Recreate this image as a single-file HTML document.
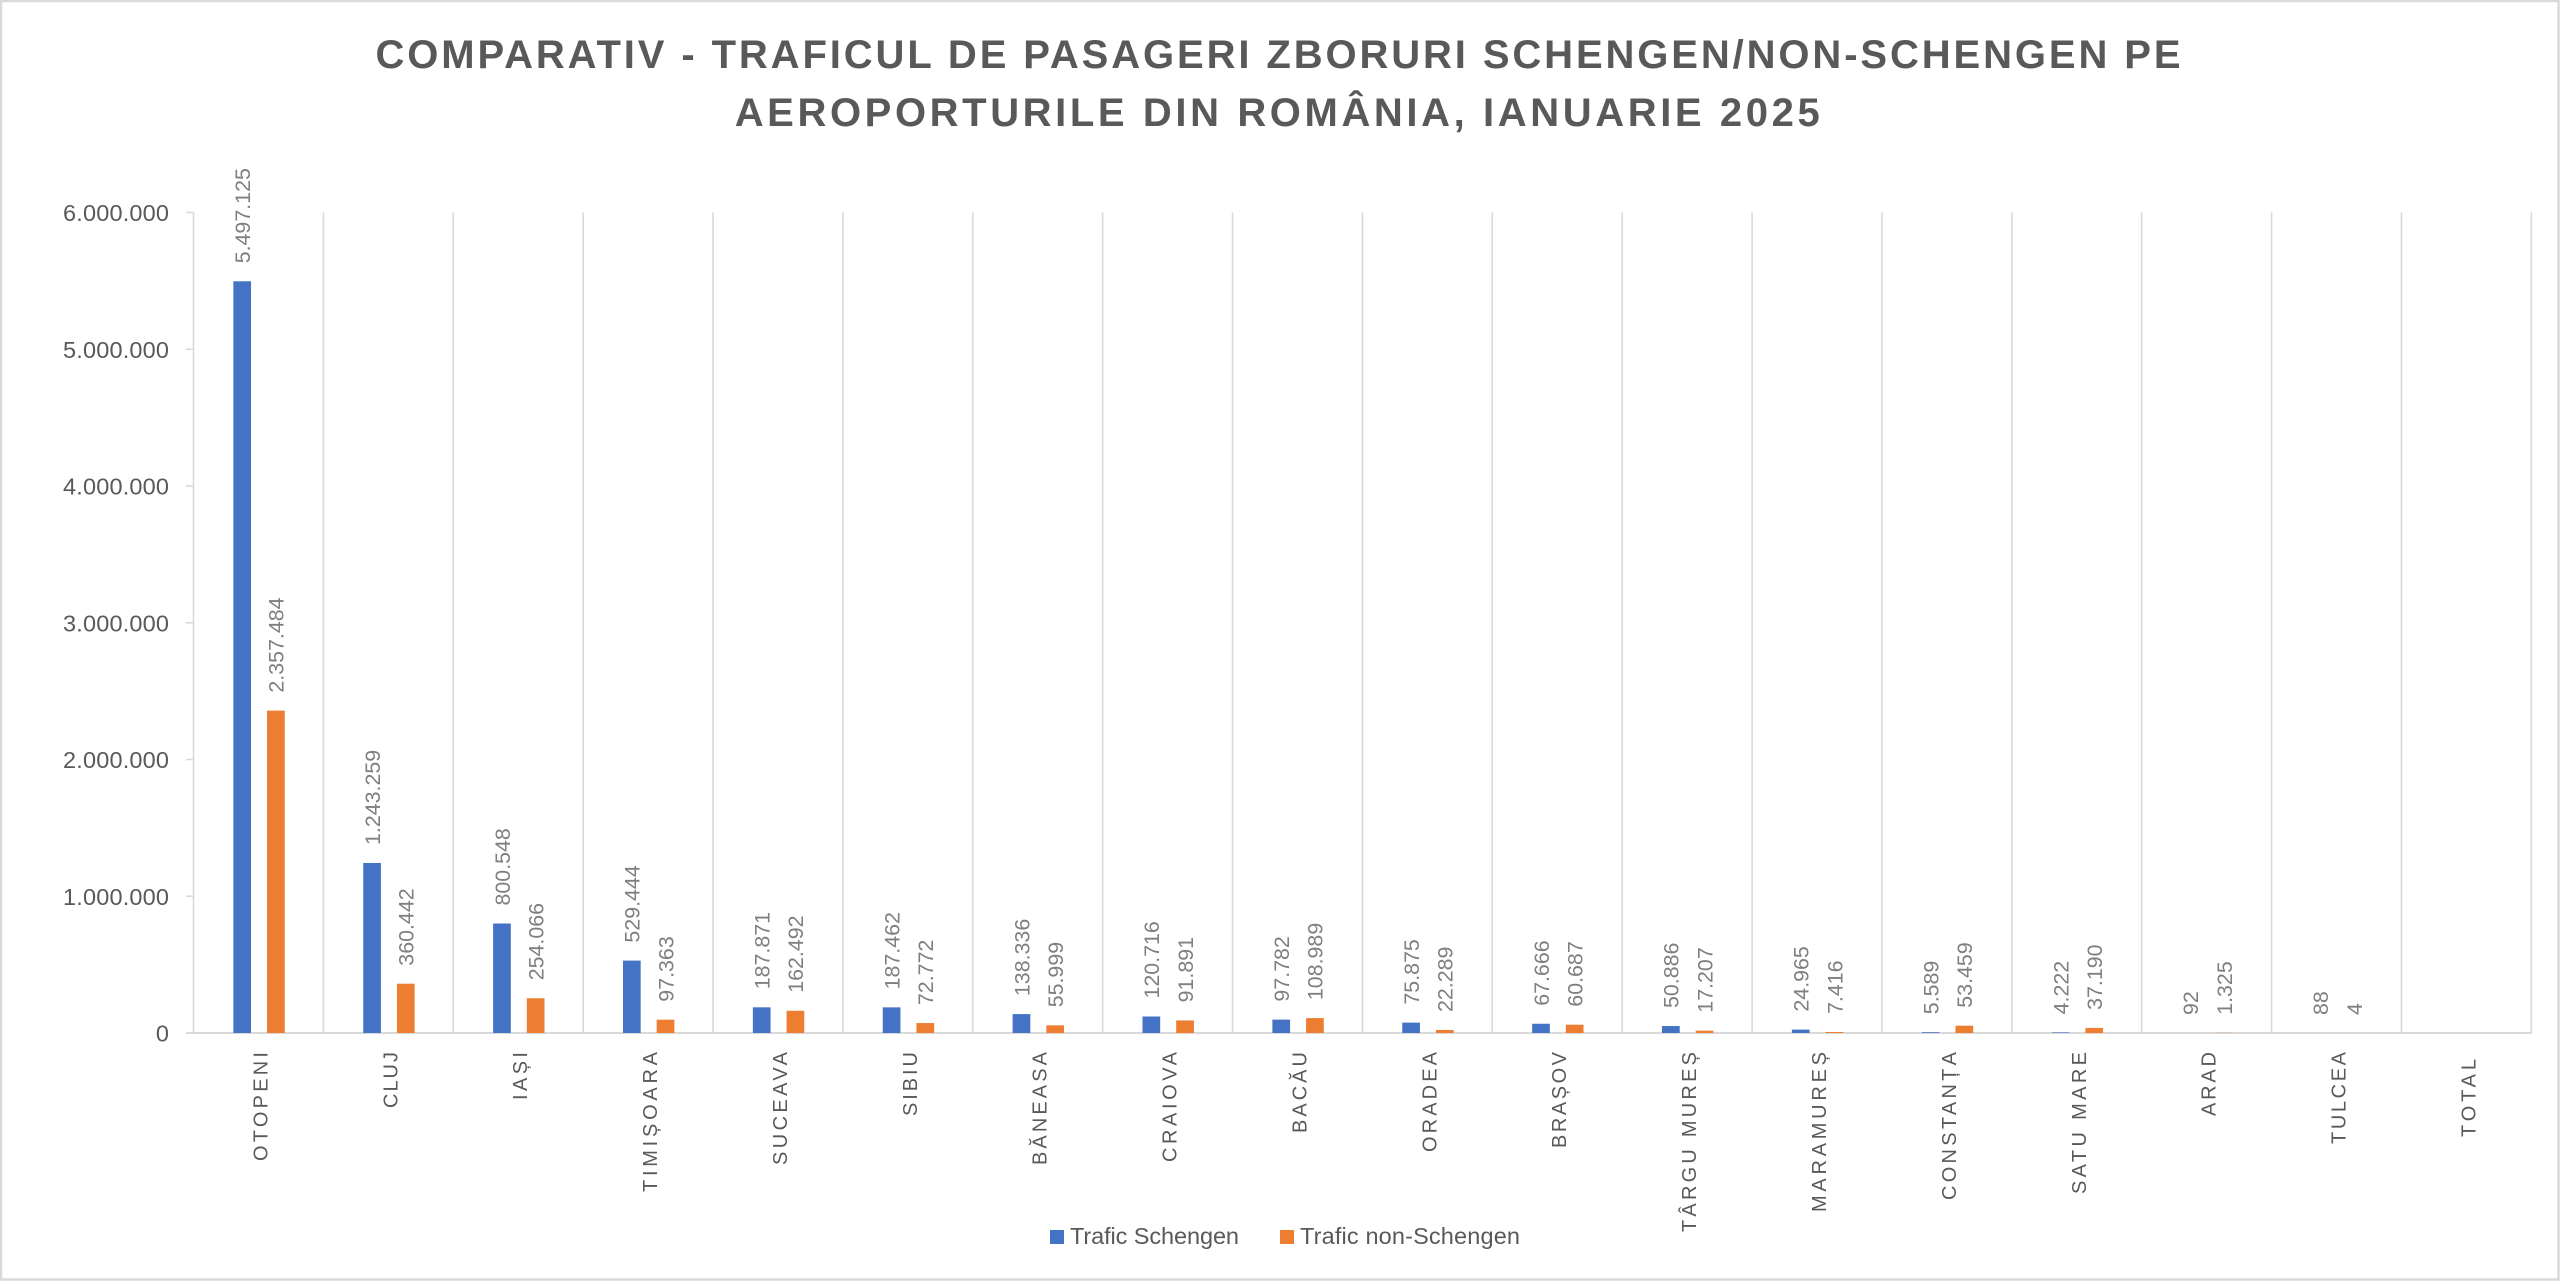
<!DOCTYPE html>
<html>
<head>
<meta charset="utf-8">
<style>
  html,body{margin:0;padding:0;background:#fff;}
  svg{display:block;}
  text{font-family:"Liberation Sans",Arial,sans-serif;}
</style>
</head>
<body>
<svg width="2560" height="1281" viewBox="0 0 2560 1281" xmlns="http://www.w3.org/2000/svg">
  <rect x="0" y="0" width="2560" height="1281" fill="#ffffff"/>
  <rect x="1" y="1" width="2557.5" height="1278.5" fill="none" stroke="#d9d9d9" stroke-width="2.5"/>

  <!-- Title -->
  <text x="375.5" y="68" font-size="40" font-weight="bold" fill="#595959" textLength="1805" lengthAdjust="spacing">COMPARATIV - TRAFICUL DE PASAGERI ZBORURI SCHENGEN/NON-SCHENGEN PE</text>
  <text x="734.7" y="126" font-size="40" font-weight="bold" fill="#595959" textLength="1085" lengthAdjust="spacing">AEROPORTURILE DIN ROMÂNIA, IANUARIE 2025</text>

  <!-- vertical gridlines -->
  <g stroke="#d9d9d9" stroke-width="1.6">
    <line x1="193.5" y1="212.5" x2="193.5" y2="1033"/>
    <line x1="323.38" y1="212.5" x2="323.38" y2="1033"/>
    <line x1="453.26" y1="212.5" x2="453.26" y2="1033"/>
    <line x1="583.14" y1="212.5" x2="583.14" y2="1033"/>
    <line x1="713.02" y1="212.5" x2="713.02" y2="1033"/>
    <line x1="842.9" y1="212.5" x2="842.9" y2="1033"/>
    <line x1="972.78" y1="212.5" x2="972.78" y2="1033"/>
    <line x1="1102.66" y1="212.5" x2="1102.66" y2="1033"/>
    <line x1="1232.54" y1="212.5" x2="1232.54" y2="1033"/>
    <line x1="1362.42" y1="212.5" x2="1362.42" y2="1033"/>
    <line x1="1492.3" y1="212.5" x2="1492.3" y2="1033"/>
    <line x1="1622.18" y1="212.5" x2="1622.18" y2="1033"/>
    <line x1="1752.06" y1="212.5" x2="1752.06" y2="1033"/>
    <line x1="1881.94" y1="212.5" x2="1881.94" y2="1033"/>
    <line x1="2011.82" y1="212.5" x2="2011.82" y2="1033"/>
    <line x1="2141.7" y1="212.5" x2="2141.7" y2="1033"/>
    <line x1="2271.58" y1="212.5" x2="2271.58" y2="1033"/>
    <line x1="2401.46" y1="212.5" x2="2401.46" y2="1033"/>
    <line x1="2531.34" y1="212.5" x2="2531.34" y2="1033"/>
    <!-- y ticks -->
    <line x1="186" y1="212.5" x2="193.5" y2="212.5"/>
    <line x1="186" y1="349.25" x2="193.5" y2="349.25"/>
    <line x1="186" y1="486" x2="193.5" y2="486"/>
    <line x1="186" y1="622.75" x2="193.5" y2="622.75"/>
    <line x1="186" y1="759.5" x2="193.5" y2="759.5"/>
    <line x1="186" y1="896.25" x2="193.5" y2="896.25"/>
  </g>
  <line x1="186" y1="1033" x2="2531.34" y2="1033" stroke="#d9d9d9" stroke-width="2"/>

  <!-- Y axis labels -->
  <g font-size="23.5" fill="#595959" text-anchor="end">
    <text x="169" y="221" textLength="106" lengthAdjust="spacing">6.000.000</text>
    <text x="169" y="357.75" textLength="106" lengthAdjust="spacing">5.000.000</text>
    <text x="169" y="494.5" textLength="106" lengthAdjust="spacing">4.000.000</text>
    <text x="169" y="631.25" textLength="106" lengthAdjust="spacing">3.000.000</text>
    <text x="169" y="768" textLength="106" lengthAdjust="spacing">2.000.000</text>
    <text x="169" y="904.75" textLength="106" lengthAdjust="spacing">1.000.000</text>
    <text x="169" y="1041.5">0</text>
  </g>

  <!-- Blue bars -->
  <g fill="#4472c4">
    <rect x="233.34" y="281.27" width="17.7" height="751.73"/>
    <rect x="363.22" y="862.98" width="17.7" height="170.02"/>
    <rect x="493.10" y="923.52" width="17.7" height="109.48"/>
    <rect x="622.98" y="960.60" width="17.7" height="72.40"/>
    <rect x="752.86" y="1007.31" width="17.7" height="25.69"/>
    <rect x="882.74" y="1007.36" width="17.7" height="25.64"/>
    <rect x="1012.62" y="1014.08" width="17.7" height="18.92"/>
    <rect x="1142.50" y="1016.49" width="17.7" height="16.51"/>
    <rect x="1272.38" y="1019.63" width="17.7" height="13.37"/>
    <rect x="1402.26" y="1022.62" width="17.7" height="10.38"/>
    <rect x="1532.14" y="1023.75" width="17.7" height="9.25"/>
    <rect x="1662.02" y="1026.04" width="17.7" height="6.96"/>
    <rect x="1791.90" y="1029.59" width="17.7" height="3.41"/>
    <rect x="1921.78" y="1032.24" width="17.7" height="0.76"/>
    <rect x="2051.66" y="1032.42" width="17.7" height="0.58"/>
  </g>
  <!-- Orange bars -->
  <g fill="#ed7d31">
    <rect x="267.04" y="710.61" width="17.7" height="322.39"/>
    <rect x="396.92" y="983.71" width="17.7" height="49.29"/>
    <rect x="526.80" y="998.26" width="17.7" height="34.74"/>
    <rect x="656.68" y="1019.69" width="17.7" height="13.31"/>
    <rect x="786.56" y="1010.78" width="17.7" height="22.22"/>
    <rect x="916.44" y="1023.05" width="17.7" height="9.95"/>
    <rect x="1046.32" y="1025.34" width="17.7" height="7.66"/>
    <rect x="1176.20" y="1020.43" width="17.7" height="12.57"/>
    <rect x="1306.08" y="1018.10" width="17.7" height="14.90"/>
    <rect x="1435.96" y="1029.95" width="17.7" height="3.05"/>
    <rect x="1565.84" y="1024.70" width="17.7" height="8.30"/>
    <rect x="1695.72" y="1030.65" width="17.7" height="2.35"/>
    <rect x="1825.60" y="1031.99" width="17.7" height="1.01"/>
    <rect x="1955.48" y="1025.69" width="17.7" height="7.31"/>
    <rect x="2085.36" y="1027.91" width="17.7" height="5.09"/>
    <rect x="2215.24" y="1032.82" width="17.7" height="0.18"/>
  </g>

  <!-- Data labels -->
  <g font-size="21.4" fill="#7f7f7f">
    <text transform="translate(250.0 263.3) rotate(-90)">5.497.125</text>
    <text transform="translate(283.7 692.6) rotate(-90)">2.357.484</text>
    <text transform="translate(379.9 845.0) rotate(-90)">1.243.259</text>
    <text transform="translate(413.6 965.7) rotate(-90)">360.442</text>
    <text transform="translate(509.8 905.5) rotate(-90)">800.548</text>
    <text transform="translate(543.5 980.3) rotate(-90)">254.066</text>
    <text transform="translate(639.6 942.6) rotate(-90)">529.444</text>
    <text transform="translate(673.3 1001.7) rotate(-90)">97.363</text>
    <text transform="translate(769.5 989.3) rotate(-90)">187.871</text>
    <text transform="translate(803.2 992.8) rotate(-90)">162.492</text>
    <text transform="translate(899.4 989.4) rotate(-90)">187.462</text>
    <text transform="translate(933.1 1005.1) rotate(-90)">72.772</text>
    <text transform="translate(1029.3 996.1) rotate(-90)">138.336</text>
    <text transform="translate(1063.0 1007.3) rotate(-90)">55.999</text>
    <text transform="translate(1159.2 998.5) rotate(-90)">120.716</text>
    <text transform="translate(1192.9 1002.4) rotate(-90)">91.891</text>
    <text transform="translate(1289.0 1001.6) rotate(-90)">97.782</text>
    <text transform="translate(1322.7 1000.1) rotate(-90)">108.989</text>
    <text transform="translate(1418.9 1004.6) rotate(-90)">75.875</text>
    <text transform="translate(1452.6 1012.0) rotate(-90)">22.289</text>
    <text transform="translate(1548.8 1005.8) rotate(-90)">67.666</text>
    <text transform="translate(1582.5 1006.7) rotate(-90)">60.687</text>
    <text transform="translate(1678.7 1008.0) rotate(-90)">50.886</text>
    <text transform="translate(1712.4 1012.7) rotate(-90)">17.207</text>
    <text transform="translate(1808.6 1011.6) rotate(-90)">24.965</text>
    <text transform="translate(1842.3 1014.0) rotate(-90)">7.416</text>
    <text transform="translate(1938.4 1014.2) rotate(-90)">5.589</text>
    <text transform="translate(1972.1 1007.7) rotate(-90)">53.459</text>
    <text transform="translate(2068.3 1014.4) rotate(-90)">4.222</text>
    <text transform="translate(2102.0 1009.9) rotate(-90)">37.190</text>
    <text transform="translate(2198.2 1015.0) rotate(-90)">92</text>
    <text transform="translate(2231.9 1014.8) rotate(-90)">1.325</text>
    <text transform="translate(2328.1 1015.0) rotate(-90)">88</text>
    <text transform="translate(2361.8 1015.0) rotate(-90)">4</text>
  </g>

  <!-- Category labels -->
  <g font-size="20" fill="#595959" text-anchor="end">
    <text transform="translate(267.4 1052) rotate(-90)" textLength="109" lengthAdjust="spacing">OTOPENI</text>
    <text transform="translate(397.3 1052) rotate(-90)" textLength="56" lengthAdjust="spacing">CLUJ</text>
    <text transform="translate(527.2 1052) rotate(-90)" textLength="48" lengthAdjust="spacing">IAȘI</text>
    <text transform="translate(657.1 1052) rotate(-90)" textLength="140" lengthAdjust="spacing">TIMIȘOARA</text>
    <text transform="translate(787.0 1052) rotate(-90)" textLength="113" lengthAdjust="spacing">SUCEAVA</text>
    <text transform="translate(916.8 1052) rotate(-90)" textLength="64" lengthAdjust="spacing">SIBIU</text>
    <text transform="translate(1046.7 1052) rotate(-90)" textLength="113" lengthAdjust="spacing">BĂNEASA</text>
    <text transform="translate(1176.6 1052) rotate(-90)" textLength="110" lengthAdjust="spacing">CRAIOVA</text>
    <text transform="translate(1306.5 1052) rotate(-90)" textLength="81" lengthAdjust="spacing">BACĂU</text>
    <text transform="translate(1436.4 1052) rotate(-90)" textLength="100" lengthAdjust="spacing">ORADEA</text>
    <text transform="translate(1566.2 1052) rotate(-90)" textLength="96" lengthAdjust="spacing">BRAȘOV</text>
    <text transform="translate(1696.1 1052) rotate(-90)" textLength="180" lengthAdjust="spacing">TÂRGU MUREȘ</text>
    <text transform="translate(1826.0 1052) rotate(-90)" textLength="160" lengthAdjust="spacing">MARAMUREȘ</text>
    <text transform="translate(1955.9 1052) rotate(-90)" textLength="148" lengthAdjust="spacing">CONSTANȚA</text>
    <text transform="translate(2085.8 1052) rotate(-90)" textLength="142" lengthAdjust="spacing">SATU MARE</text>
    <text transform="translate(2215.6 1052) rotate(-90)" textLength="64" lengthAdjust="spacing">ARAD</text>
    <text transform="translate(2345.5 1052) rotate(-90)" textLength="92" lengthAdjust="spacing">TULCEA</text>
    <text transform="translate(2475.4 1059) rotate(-90)" textLength="78" lengthAdjust="spacing">TOTAL</text>
  </g>

  <!-- Legend -->
  <rect x="1050" y="1230" width="14" height="14" fill="#4472c4"/>
  <text x="1070" y="1244" font-size="23.5" fill="#595959" textLength="169" lengthAdjust="spacing">Trafic Schengen</text>
  <rect x="1280" y="1230" width="14" height="14" fill="#ed7d31"/>
  <text x="1300" y="1244" font-size="23.5" fill="#595959" textLength="220" lengthAdjust="spacing">Trafic non-Schengen</text>
</svg>
</body>
</html>
